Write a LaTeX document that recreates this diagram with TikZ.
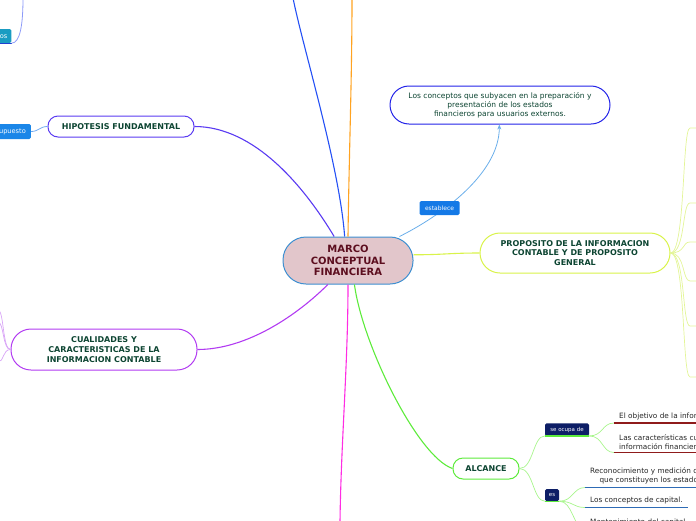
\documentclass[tikz,border=0pt]{standalone}
\usepackage{fontspec}
\setmainfont{DejaVu Sans}
\usetikzlibrary{positioning, arrows.meta}

\definecolor{hubfill}{HTML}{E2C6CB}
\definecolor{hubline}{HTML}{3D8FD1}
\definecolor{hubtext}{HTML}{5C0E1F}
\definecolor{leafgreen}{HTML}{0D4532}
\definecolor{objline}{HTML}{2323E8}
\definecolor{estline}{HTML}{6AAEEA}
\definecolor{estfill}{HTML}{1479E6}
\definecolor{propline}{HTML}{D9F34A}
\definecolor{propfan}{HTML}{E3F597}
\definecolor{alcline}{HTML}{5DEB3B}
\definecolor{alcfan}{HTML}{A8F58C}
\definecolor{navy}{HTML}{0D1E66}
\definecolor{redline}{HTML}{8F1B1B}
\definecolor{blueline}{HTML}{2E6BB5}
\definecolor{hipline}{HTML}{5A3BF2}
\definecolor{supfill}{HTML}{1A86E8}
\definecolor{supline}{HTML}{6FA9F0}
\definecolor{osfill}{HTML}{1A9CC2}
\definecolor{osdark}{HTML}{2040D0}
\definecolor{osline}{HTML}{8C9AF8}
\definecolor{cualline}{HTML}{B23BF2}
\definecolor{cualfan}{HTML}{D8A4F6}
\definecolor{blueup}{HTML}{2450F5}
\definecolor{orangeup}{HTML}{FFA321}
\definecolor{magentadown}{HTML}{FF2DE3}

\begin{document}
\begin{tikzpicture}[
  x=1pt, y=-1pt,
  hub/.style   = {draw=hubline, fill=hubfill, line width=1pt, rounded corners=23pt,
                  minimum width=130pt, minimum height=47pt, align=center,
                  font=\bfseries\fontsize{10}{11.5}\selectfont, text=hubtext},
  topic/.style = {draw=#1, fill=white, line width=1pt, align=center, inner sep=1pt,
                  font=\bfseries\fontsize{8}{9.6}\selectfont, text=leafgreen},
  note/.style  = {draw=#1, fill=white, line width=1pt, align=center, inner sep=1pt,
                  font=\fontsize{7.5}{9}\selectfont, text=leafgreen},
  tag/.style   = {fill=#1, text=white, rounded corners=1.5pt, inner sep=0pt,
                  font=\fontsize{5.5}{6}\selectfont},
  item/.style  = {anchor=south west, inner xsep=5pt, inner ysep=3pt, align=#1,
                  font=\fontsize{7.3}{9}\selectfont, text=black!85},
  conn/.style  = {draw=#1, line width=1.1pt},
  twig/.style  = {draw=#1, line width=0.7pt},
  uline/.style = {draw=#1, line width=1.3pt},
]
\useasboundingbox (0,0) rectangle (696,520);
\clip (0,0) rectangle (696,520);

% ---- main topics
\node[hub] (marco) at (348,260.5) {MARCO\\CONCEPTUAL\\FINANCIERA};

\node[note=objline, rounded corners=19pt, minimum width=220pt, minimum height=38pt]
  (conceptos) at (500,105) {Los conceptos que subyacen en la preparación y\\presentación de los estados\\financieros para usuarios externos.};
\node[topic=propline, rounded corners=20pt, minimum width=190pt, minimum height=40pt]
  (proposito) at (575,253) {PROPOSITO DE LA INFORMACION\\CONTABLE Y DE PROPOSITO\\GENERAL};
\node[topic=alcline, rounded corners=10pt, minimum width=66pt, minimum height=21pt]
  (alcance) at (486,468.5) {ALCANCE};
\node[topic=hipline, rounded corners=10pt, minimum width=146pt, minimum height=21pt]
  (hipotesis) at (121,126.5) {HIPOTESIS FUNDAMENTAL};
\node[topic=cualline, rounded corners=20pt, minimum width=186pt, minimum height=41pt]
  (cualidades) at (104,349.5) {CUALIDADES Y\\CARACTERISTICAS DE LA\\INFORMACION CONTABLE};

% ---- small labels
\node[tag=supfill, minimum height=15pt, inner xsep=5pt, anchor=east, font=\fontsize{6.6}{7}\selectfont]
  (supuesto) at (31,131.5) {supuesto};
\node[tag=osfill, minimum height=14pt, inner xsep=4pt, anchor=east, font=\fontsize{6.6}{7}\selectfont]
  (postulados) at (11.5,36) {Postulados básicos};
\draw[osdark, line width=1pt] (postulados.south west) -- (postulados.south east);
\node[tag=navy, minimum width=44pt, minimum height=12.5pt] (seocupa) at (567,429.5) {se ocupa de};
\node[tag=navy, minimum width=14pt, minimum height=12pt] (es) at (552,495) {es};

% ---- leaves of ALCANCE
\node[item=left]   (objinfo) at (614,423)   {El objetivo de la información financiera.};
\node[item=left]   (caract)  at (614,452.5) {Las características cualitativas de la\\información financiera.};
\node[item=center] (recono)  at (585,487.5) {Reconocimiento y medición de los elementos\\que constituyen los estados financieros.};
\node[item=left]   (capital) at (585,507.5) {Los conceptos de capital.};
\node[item=left]   (manten)  at (585,529)   {Mantenimiento del capital.};

% ---- free ends at the picture border
\coordinate (topblue)   at (293,-2);
\coordinate (toporange) at (352,-2);
\coordinate (bottommag) at (340,522);
\coordinate (topos)     at (23,-2);

% ---- branches out of the centre
\draw[conn=blueup]      (marco.98)   .. controls +(-5,-70) and +(10,50) .. (topblue);
\draw[conn=orangeup]    (marco.north) .. controls +(1,-80) and +(0,80) .. (toporange);
\draw[conn=magentadown] (marco.south) .. controls +(0,80) and +(1,-80) .. (bottommag);
\draw[conn=hipline]     (marco.120)  .. controls +(-30,-50) and +(60,0) .. (hipotesis.east);
\draw[conn=cualline]    (marco.-130) .. controls +(-30,30) and +(50,0) .. (cualidades.east);
\draw[conn=propline]    (marco.5)    .. controls +(30,0) and +(-30,0) .. (proposito.west);
\draw[conn=alcline]     (marco.-75)  .. controls +(8,60) and +(-35,-12) .. (alcance.west);
\draw[conn=estline, line width=0.8pt, -{Stealth[length=5pt,width=4pt]}]
  (marco.25) .. controls +(40,-20) and +(0,50) .. (conceptos.-92);
\node[tag=estfill, font=\fontsize{6}{7}\selectfont, minimum width=40pt, minimum height=14pt]
  (establece) at (439.5,208) {establece};

% ---- left side
\draw[conn=supline, line width=0.8pt] (hipotesis.west) .. controls +(-8,0) and +(8,0) .. (supuesto.east);
\draw[twig=osline, line width=0.8pt] (postulados.south east) .. controls +(9,0) and +(0,25) .. (topos);
\foreach \y [count=\i] in {310,322,362} {
  \coordinate (cq\i) at (-2,\y);
  \draw[twig=cualfan] (cualidades.west) .. controls +(-8,0) and +(6,0) .. (cq\i);
}

% ---- fan of PROPOSITO
\foreach \y [count=\i] in {128,203,242,281,326,377} {
  \coordinate (pf\i) at (690,\y);
  \draw[twig=propfan] (proposito.east) .. controls +(15,0) and +(-8,0) .. (pf\i) -- +(10,0);
}

% ---- ALCANCE subtree
\draw[twig=alcfan] (alcance.east) .. controls +(14,0) and +(-12,0) .. (seocupa.south west);
\draw[twig=alcfan] (alcance.east) .. controls +(14,0) and +(-12,0) .. (es.south west);
\draw[uline=alcline] (seocupa.south west) -- (seocupa.south east);
\draw[uline=alcline] (es.south west) -- (es.south east);

\foreach \leaf in {objinfo, caract} {
  \draw[twig=alcfan] (seocupa.south east) .. controls +(14,0) and +(-12,0) .. (\leaf.south west);
  \draw[uline=redline] (\leaf.south west) -- (\leaf.south east);
}
\foreach \leaf in {recono, capital, manten} {
  \draw[twig=alcfan] (es.south east) .. controls +(14,0) and +(-12,0) .. (\leaf.south west);
  \draw[uline=blueline] (\leaf.south west) -- (\leaf.south east);
}
\end{tikzpicture}
\end{document}
